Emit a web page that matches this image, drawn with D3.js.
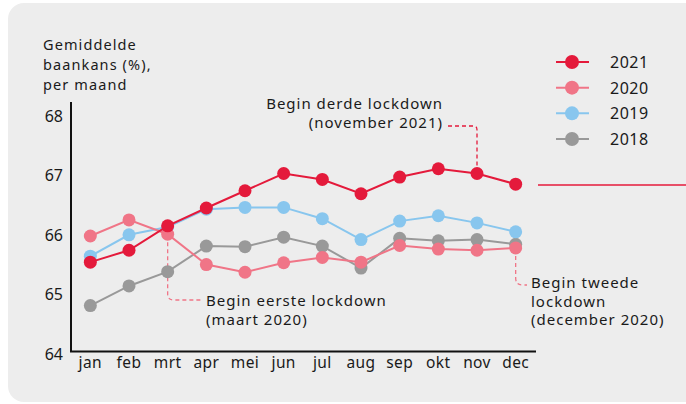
<!DOCTYPE html>
<html>
<head>
<meta charset="utf-8">
<script src="https://cdn.jsdelivr.net/npm/d3@7"></script>
<style>
  body { margin: 0; background: #fff; }
  svg text { font-family: "Noto Sans", sans-serif; fill: #1a1a1a; }
</style>
</head>
<body>
<svg id="chart"></svg>
<script>
// data
const months = ["jan", "feb", "mrt", "apr", "mei", "jun", "jul", "aug", "sep", "okt", "nov", "dec"];
const years = ["2021", "2020", "2019", "2018"];
const yTicks = [64, 65, 66, 67, 68];
const v2021 = [65.51, 65.71, 66.12, 66.42, 66.71, 67.00, 66.90, 66.66, 66.94, 67.08, 67.00, 66.82];
const v2020 = [65.95, 66.22, 65.98, 65.47, 65.34, 65.50, 65.59, 65.51, 65.79, 65.73, 65.71, 65.75];
const v2019 = [65.61, 65.97, 66.10, 66.40, 66.43, 66.43, 66.24, 65.89, 66.20, 66.29, 66.17, 66.02];
const v2018 = [64.78, 65.11, 65.35, 65.78, 65.77, 65.93, 65.78, 65.41, 65.91, 65.87, 65.89, 65.81];

const width = 686, height = 404;
const colors = { "2021": "#e41a3b", "2020": "#f07587", "2019": "#88c6ee", "2018": "#999999" };
const seriesValues = { "2021": v2021, "2020": v2020, "2019": v2019, "2018": v2018 };

const svg = d3.select("#chart").attr("width", width).attr("height", height);

// grey panel
svg.append("rect")
  .attr("x", 8).attr("y", 3)
  .attr("width", 720).attr("height", 399)
  .attr("rx", 16)
  .attr("fill", "#ededed");

// scales
const x = d3.scalePoint().domain(months).range([71, 535]).padding(0.5);
const y = d3.scaleLinear().domain([64, 68]).range([352, 114]);

// axis title, one text per line
svg.selectAll(".ytitle")
  .data(["Gemiddelde", "baankans (%),", "per maand"])
  .join("text")
  .attr("class", "ytitle")
  .attr("x", 43)
  .attr("y", (d, i) => 50 + i * 20)
  .style("font-size", "14.5px")
  .style("letter-spacing", "1.1px")
  .text(d => d);

// axes lines
svg.append("line")
  .attr("x1", 71).attr("x2", 71).attr("y1", 102).attr("y2", 352)
  .attr("stroke", "#111").attr("stroke-width", 2);
svg.append("line")
  .attr("x1", 70).attr("x2", 536).attr("y1", 351.5).attr("y2", 351.5)
  .attr("stroke", "#111").attr("stroke-width", 2);

// y tick labels
svg.selectAll(".ylab")
  .data(yTicks)
  .join("text")
  .attr("class", "ylab")
  .attr("x", 63)
  .attr("y", d => y(d) + 7.5)
  .attr("text-anchor", "end")
  .style("font-size", "16px")
  .text(d => d);

// x tick labels
svg.selectAll(".xlab")
  .data(months)
  .join("text")
  .attr("class", "xlab")
  .attr("x", d => x(d))
  .attr("y", 368)
  .attr("text-anchor", "middle")
  .style("font-size", "15.5px")
  .style("letter-spacing", "0.4px")
  .text(d => d);

// dashed annotation leaders
const dash = "4,3";
svg.append("path")
  .attr("d", `M448,126 H474 Q${x("nov")},126 ${x("nov")},130 V${y(67.00) - 8}`)
  .attr("fill", "none").attr("stroke", colors["2021"]).attr("stroke-width", 1.3)
  .attr("stroke-dasharray", dash);
svg.append("path")
  .attr("d", `M${x("mrt")},${y(65.98) + 8} V294 Q${x("mrt")},300 ${x("mrt") + 6},300 H201`)
  .attr("fill", "none").attr("stroke", colors["2020"]).attr("stroke-width", 1.3)
  .attr("stroke-dasharray", dash);
svg.append("path")
  .attr("d", `M${x("dec")},${y(65.75) + 8} V278 Q${x("dec")},285 ${x("dec") + 7},285 H527`)
  .attr("fill", "none").attr("stroke", colors["2020"]).attr("stroke-width", 1.3)
  .attr("stroke-dasharray", dash);

// lines and dots, drawn from oldest to newest
const line = d3.line().x((d, i) => x(months[i])).y(d => y(d));
years.slice().reverse().forEach(function (yr) {
  const g = svg.append("g");
  g.append("path")
    .datum(seriesValues[yr])
    .attr("fill", "none")
    .attr("stroke", colors[yr])
    .attr("stroke-width", 2)
    .attr("d", line);
  g.selectAll("circle")
    .data(seriesValues[yr])
    .join("circle")
    .attr("cx", (d, i) => x(months[i]))
    .attr("cy", d => y(d))
    .attr("r", 6.5)
    .attr("fill", colors[yr]);
});

// annotation texts
function note(lines, xPos, y0, step, anchor) {
  svg.selectAll(null)
    .data(lines)
    .join("text")
    .attr("x", xPos)
    .attr("y", (d, i) => y0 + i * step)
    .attr("text-anchor", anchor)
    .style("font-size", "15px")
    .style("letter-spacing", "1px")
    .text(d => d);
}
note(["Begin derde lockdown", "(november 2021)"], 443, 109, 19, "end");
note(["Begin eerste lockdown", "(maart 2020)"], 206, 306, 19, "start");
note(["Begin tweede", "lockdown", "(december 2020)"], 531, 288, 18.5, "start");

// decorative red rule at the right
svg.append("line")
  .attr("x1", 538).attr("x2", 686).attr("y1", 185).attr("y2", 185)
  .attr("stroke", colors["2021"]).attr("stroke-width", 1.3);

// legend
const legendY = d3.scalePoint().domain(years).range([62, 139]);
const legend = svg.selectAll(".leg")
  .data(years)
  .join("g")
  .attr("class", "leg")
  .attr("transform", d => `translate(0,${legendY(d)})`);
legend.append("line")
  .attr("x1", 556).attr("x2", 589)
  .attr("stroke", d => colors[d]).attr("stroke-width", 2);
legend.append("circle")
  .attr("cx", 572).attr("r", 7)
  .attr("fill", d => colors[d]);
legend.append("text")
  .attr("x", 610).attr("y", 6)
  .style("font-size", "16px")
  .style("letter-spacing", "0.5px")
  .text(d => d);
</script>
</body>
</html>
